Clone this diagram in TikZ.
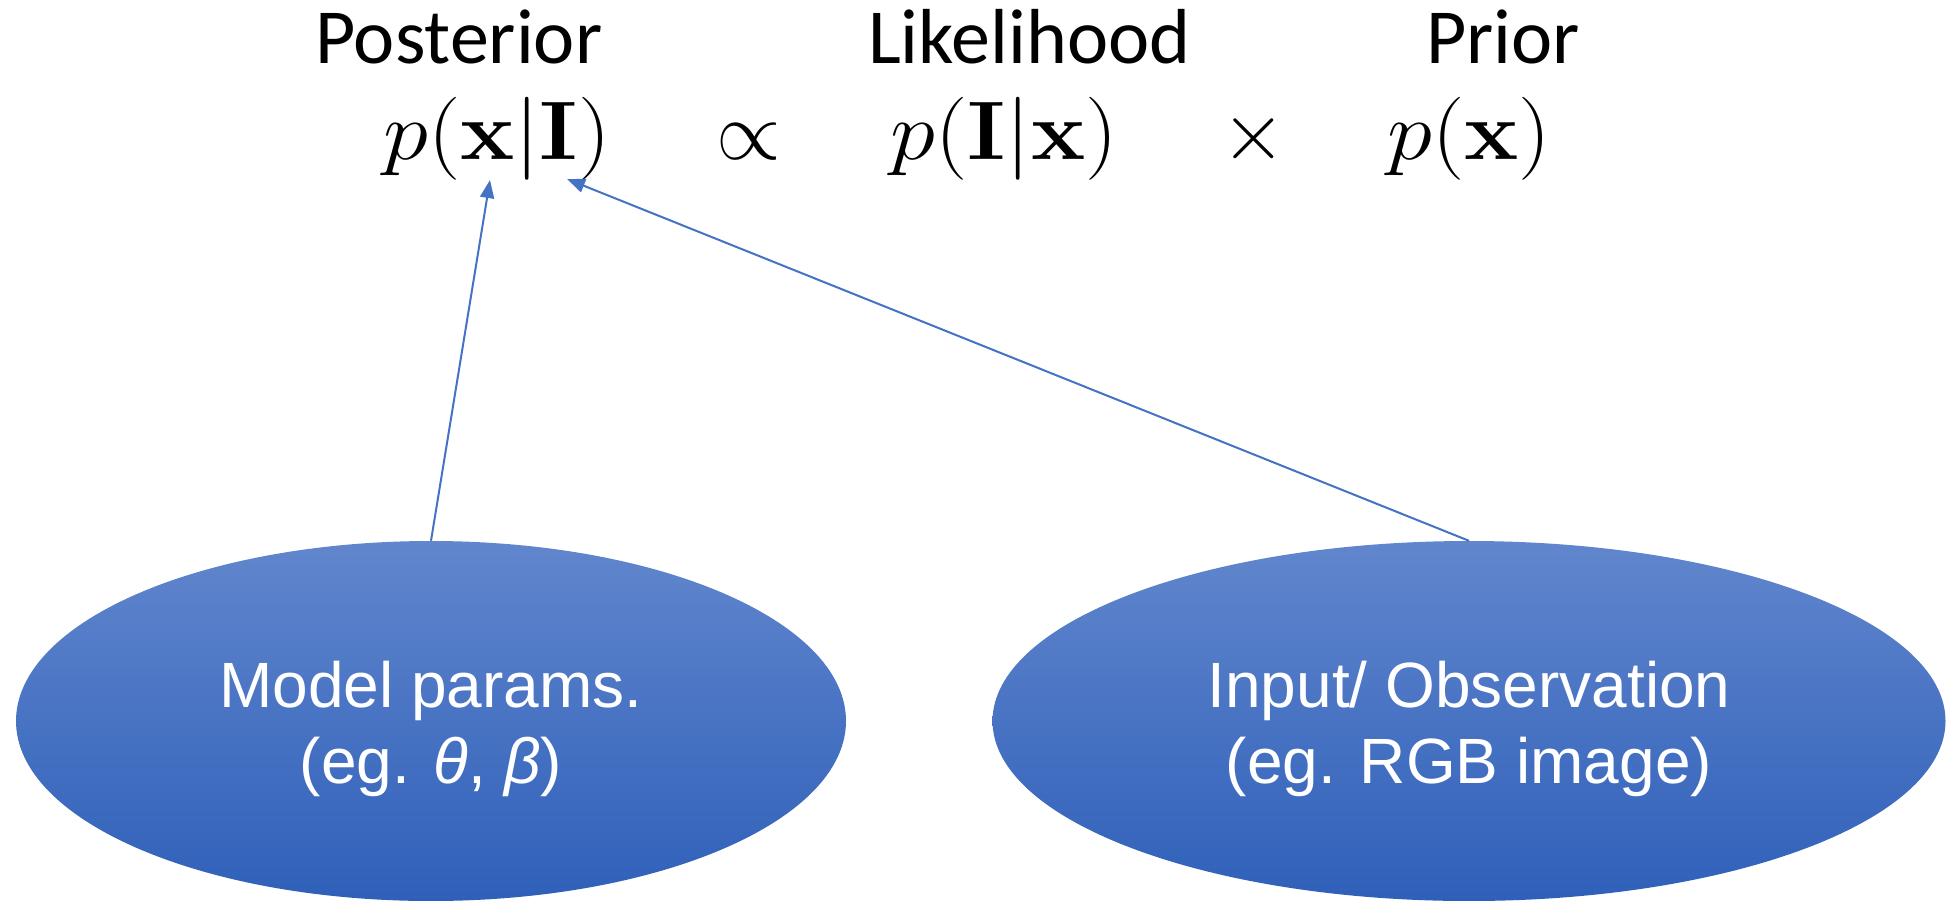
\documentclass[tikz,border=0pt]{standalone}
\usepackage{fix-cm}
\usepackage{graphicx}
\usepackage[no-math]{fontspec}
\usetikzlibrary{shapes.geometric,arrows.meta}
\newfontfamily\headfont{Carlito}
\newfontfamily\bubblefont{Liberation Sans}
\definecolor{accent}{RGB}{68,114,196}
\definecolor{bubbletop}{RGB}{97,134,205}
\definecolor{bubblemid}{RGB}{66,112,198}
\definecolor{bubblebot}{RGB}{47,96,185}
% slightly widened formula
\newcommand{\wideformula}[1]{\scalebox{1.1}[1]{$#1$}}
\begin{document}
\begin{tikzpicture}[x=1pt,y=-1pt,
  heading/.style={inner sep=0pt,anchor=base west,font=\headfont\fontsize{78}{90}\selectfont},
  formula/.style={inner sep=0pt,anchor=base west,font=\fontsize{83}{96}\selectfont},
  relop/.style={inner sep=0pt,anchor=base,font=\fontsize{83}{96}\selectfont},
  bubble/.style={ellipse,draw=none,inner sep=0pt,minimum height=360pt,
    top color=bubbletop,middle color=bubblemid,bottom color=bubblebot,shading angle=0},
  bubbletext/.style={inner sep=0pt,anchor=base,text=white,font=\bubblefont\fontsize{64}{76}\selectfont},
  link/.style={draw=accent,line width=2pt,-{Triangle[length=18pt,width=14pt]}}]
\useasboundingbox (0,0) rectangle (1949,900);

% headings
\node[heading] (hpost) at (315,63) {Posterior};
\node[heading] (hlike) at (868,63) {Likelihood};
\node[heading] (hprior) at (1426,63) {Prior};

% Bayes rule
\node[formula] (post) at (383,159) {\wideformula{p(\mathbf{x}|\mathbf{I})}};
\node[relop] (prop) at (749,159) {$\propto$};
\node[formula] (like) at (890,159) {\wideformula{p(\mathbf{I}|\mathbf{x})}};
\node[relop] (times) at (1254,159) {$\times$};
\node[formula] (prior) at (1387,159) {\wideformula{p(\mathbf{x})}};

% the two sources
\node[bubble,minimum width=830pt] (params) at (431,721) {};
\node[bubble,minimum width=953pt] (obs) at (1469,721) {};
\node[bubbletext] (paramsA) at (431,707) {Model params.};
\node[bubbletext] (paramsB) at (431,783) {(eg. \textit{θ}, \textit{β})};
\node[bubbletext] (obsA) at (1469,707) {Input/ Observation};
\node[bubbletext] (obsB) at (1469,783) {(eg. RGB image)};

% arrow targets under x and I
\coordinate (tipx) at (490,180);
\coordinate (tipI) at (567,179);

\draw[link] (params.north) -- (tipx);
\draw[link] (obs.north) -- (tipI);
\end{tikzpicture}
\end{document}
